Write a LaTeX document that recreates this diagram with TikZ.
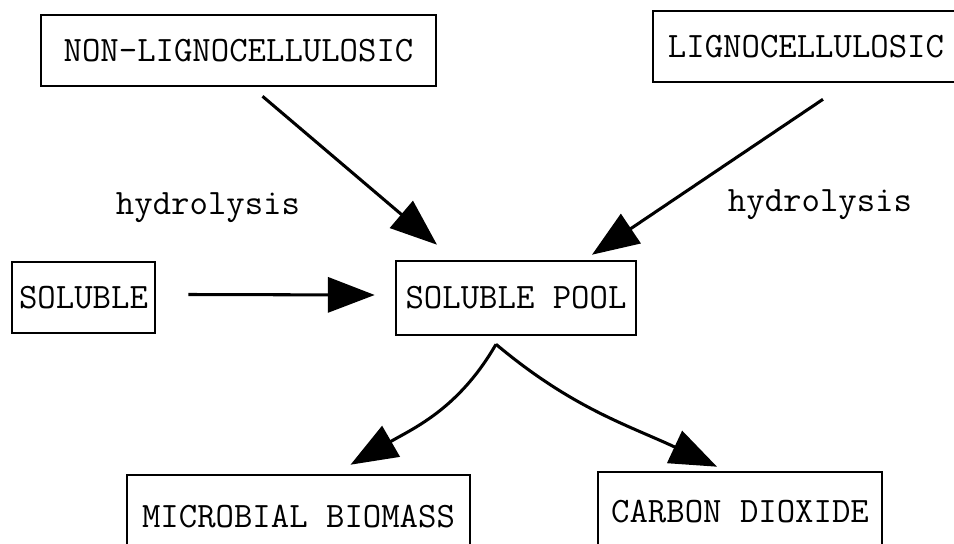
\documentclass[tikz,border=0pt]{standalone}
\usepackage{fontspec}
\usetikzlibrary{arrows.meta,calc}
\newcommand{\typefont}{\fontsize{30.5}{34}\selectfont\ttfamily}
\tikzset{
  compbox/.style={draw,line width=2.2pt,inner sep=0pt,font=\typefont},
  flow/.style={line width=2.6pt,-{Triangle[length=40pt,width=30pt]}},
  note/.style={inner sep=0pt,font=\typefont}
}
\begin{document}
\begin{tikzpicture}[x=0.03cm,y=-0.03cm]
\path[use as bounding box,clip] (0,0) rectangle (954,544);

\node[compbox,minimum width=395*0.03cm,minimum height=71*0.03cm] (nonlig) at (238.5,50.5) {NON-LIGNOCELLULOSIC};
\node[compbox,minimum width=306*0.03cm,minimum height=71*0.03cm] (lig) at (806,46.5) {LIGNOCELLULOSIC};
\node[compbox,minimum width=143*0.03cm,minimum height=71*0.03cm] (soluble) at (83.5,297.5) {SOLUBLE};
\node[compbox,minimum width=240*0.03cm,minimum height=74*0.03cm] (pool) at (516,298) {SOLUBLE POOL};
\node[compbox,minimum width=343*0.03cm,minimum height=84*0.03cm] (biomass) at (298.5,517) {MICROBIAL BIOMASS};
\node[compbox,minimum width=284*0.03cm,minimum height=80*0.03cm] (co2) at (740,512) {CARBON DIOXIDE};

\node[note] (hydleft) at (208,208) {hydrolysis};
\node[note] (hydright) at (820,205) {hydrolysis};

% inputs to the pool
\draw[flow] ($(nonlig.south)+(24,9)$) -- ($(pool.north)+(-79,-15)$);
\draw[flow] ($(lig.south)+(17,16)$) -- ($(pool.north)+(76,-5)$);
\draw[flow] ($(soluble.east)+(32,-3)$) -- ($(pool.west)+(-20,-3)$);

% outputs
\coordinate (fork) at ($(pool.south)+(-20,8)$);
\draw[flow] (fork) to[out=-120,in=30] ($(biomass.north)+(52,-9)$);
\draw[flow] (fork) to[out=-40,in=155] ($(co2.north)+(-23,-4)$);
\end{tikzpicture}
\end{document}
